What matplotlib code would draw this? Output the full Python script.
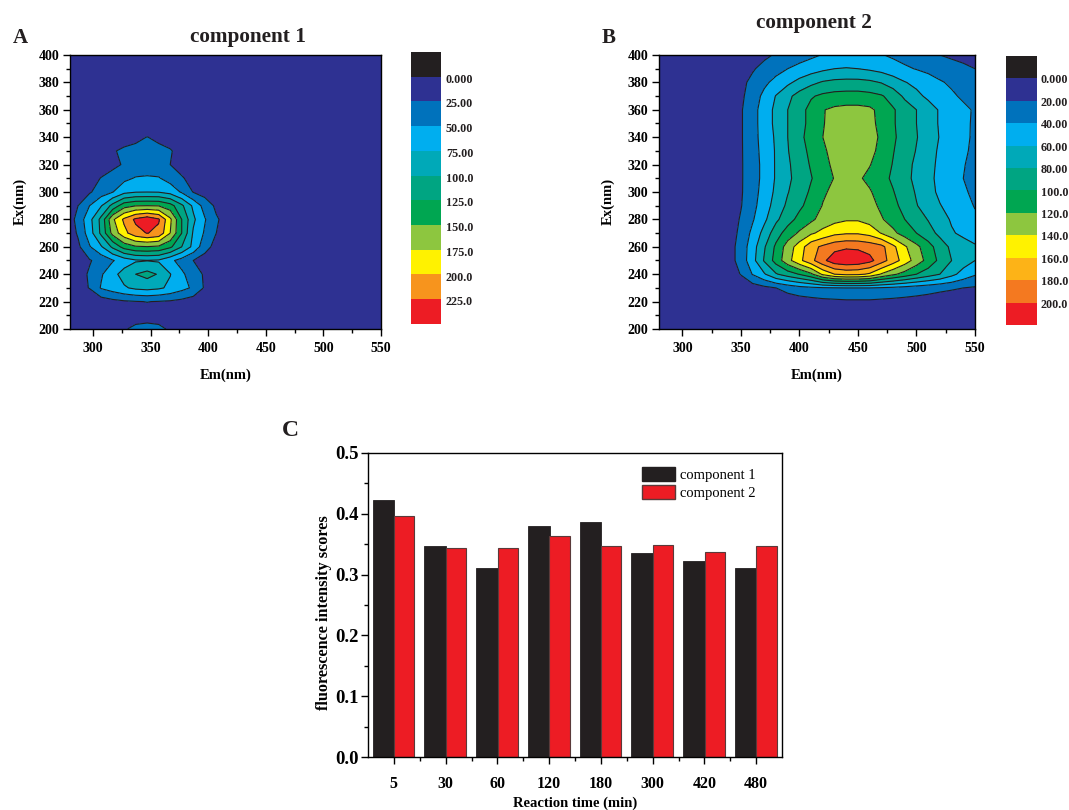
import numpy as np
import matplotlib
matplotlib.use("Agg")
import matplotlib.pyplot as plt
from matplotlib.colors import ListedColormap
from matplotlib.patches import Patch
from matplotlib.ticker import MultipleLocator

plt.rcParams['font.family'] = ['Liberation Serif', 'DejaVu Serif']
plt.rcParams['font.weight'] = 'bold'
plt.rcParams['axes.linewidth'] = 1.0

W, H = 1069, 810
DARK = '#231f20'

# excitation rows, bottom to top
ex = [200, 210, 220, 230, 240, 250, 260, 270, 280, 290, 300, 310, 320, 330, 340, 350, 360, 370, 380, 390, 400]

em_a = [280, 287, 297, 307, 317, 327, 337, 347, 357, 367, 377, 387, 397, 407, 417, 550]
z_a = [
    [0, 2, 4, 6, 15, 23, 30, 32, 30, 22, 14, 6, 3, 1, 0, 0],
    [0, 2, 3, 5, 9, 12, 15, 16, 15, 12, 9, 5, 3, 1, 0, 0],
    [1, 3, 7, 12, 18, 22, 24, 25.5, 24, 22, 18, 12, 7, 3, 1, 0],
    [5, 17, 26, 52, 62, 72, 80, 83, 79, 70, 58, 46, 22, 8, 3, 0],
    [4, 15, 28, 47, 67, 85, 100, 108, 98, 76, 55, 36, 22, 10, 3, 0],
    [3, 12, 23, 34, 48, 62, 72, 74, 72, 56, 40, 25, 14, 6, 2, 0],
    [7, 20, 48, 72, 105, 135, 147, 149, 146, 130, 100, 68, 35, 16, 6, 0],
    [14, 28, 63, 105, 158, 192, 216, 226, 218, 175, 125, 72, 47, 25, 12, 0],
    [15, 34, 67, 107, 170, 205, 230, 242, 228, 180, 125, 80, 52, 28, 15, 0],
    [10, 25, 50, 73, 108, 140, 149, 150, 149, 135, 105, 70, 40, 20, 8, 0],
    [6, 12, 22, 38, 49, 68, 74, 74.8, 74, 66, 47, 24, 15, 8, 3, 0],
    [3, 8, 15, 26, 33, 44, 52, 53, 52, 40, 27, 18, 9, 4, 2, 0],
    [1, 3, 7, 12, 20, 27, 33, 37, 33, 25, 17, 9, 5, 2, 1, 0],
    [0, 2, 5, 12, 23, 29, 31, 32, 31, 27, 16, 8, 4, 2, 0, 0],
    [0, 1, 3, 6, 10, 15, 20, 25.5, 20, 14, 8, 4, 2, 1, 0, 0],
    [0, 0, 1, 3, 5, 7, 8, 9, 8, 6, 4, 2, 1, 0, 0, 0],
    [0] * 16, [0] * 16, [0] * 16, [0] * 16, [0] * 16,
]

em_b = [280, 340, 350, 360, 370, 380, 390, 400, 410, 420, 430, 440, 450, 460, 470, 480, 490, 500, 510, 520, 530, 540, 550]
z_b = [
    [0, 0, 0, 1, 1, 1, 1, 1, 2, 2, 2, 3, 3, 3, 2, 2, 2, 2, 2, 2, 1, 1, 1],
    [0, 0, 1, 1, 2, 3, 4, 5, 6, 7, 7, 8, 8, 8, 7, 7, 6, 6, 5, 5, 4, 4, 3],
    [0, 1, 2, 3, 5, 7, 9, 11, 13, 15, 16, 17, 17, 17, 16, 15, 14, 13, 12, 11, 10, 9, 8],
    [0, 2, 5, 10, 15, 20, 27, 33, 36, 38, 39, 40, 40, 40, 38, 36, 33, 30, 27, 24, 22, 20, 18],
    [0, 9, 21, 41, 58, 78, 90, 101, 116, 144, 160, 165, 164, 157, 138, 124, 112, 100, 90, 80, 66, 52, 42],
    [0, 12, 28, 53, 82, 108, 133, 155, 174, 195, 212, 216, 214, 206, 189, 170, 151, 131, 113, 95, 80, 70, 60],
    [0, 12, 28, 51, 78, 104, 129, 150, 173, 184, 193, 197, 196, 192, 186, 165, 143, 125, 108, 90, 76, 68, 62],
    [0, 10, 25, 45, 67, 91, 109, 123, 137, 146, 155, 158, 158, 153, 139, 125, 111, 100, 88, 75, 62, 56, 52],
    [0, 9, 22, 38, 56, 76, 92, 106, 116, 128, 134, 138, 138, 132, 122, 111, 100, 90, 79, 68, 58, 50, 43],
    [0, 8, 19, 34, 51, 68, 84, 96, 108, 121, 128, 132, 132, 127, 116, 105, 94, 81, 71, 61, 53, 46, 39],
    [0, 7, 18, 32, 48, 64, 79, 91, 103, 117, 125, 128, 128, 122, 111, 101, 90, 78, 67, 56, 49, 42, 37],
    [0, 7, 18, 31, 46, 62, 76, 88, 99, 110, 121, 124, 123, 115, 106, 97, 86, 75, 65, 55, 47, 40, 33],
    [0, 7, 18, 31, 46, 62, 77, 90, 102, 114, 124, 127, 127, 121, 110, 99, 87, 76, 66, 56, 48, 41, 35],
    [0, 7, 18, 32, 47, 62, 79, 92, 105, 117, 126, 129, 129, 125, 115, 101, 90, 79, 68, 57, 49, 43, 36],
    [0, 7, 18, 33, 48, 63, 80, 95, 108, 120, 127, 130, 130, 127, 117, 103, 92, 81, 70, 59, 50, 44, 37],
    [0, 7, 18, 33, 49, 65, 80, 93, 106, 119, 126, 128, 128, 126, 114, 102, 91, 80, 69, 58, 50, 43, 38],
    [0, 7, 18, 33, 49, 65, 80, 93, 106, 119, 124, 126, 126, 124, 114, 102, 91, 80, 69, 58, 50, 44, 38],
    [0, 8, 16, 30, 45, 61, 75, 88, 98, 104, 107, 108, 108, 106, 102, 92, 76, 65, 56, 50, 43, 37, 32],
    [0, 8, 15, 25, 36, 46, 56, 66, 75, 82, 85, 86, 86, 84, 79, 70, 61, 55, 49, 42, 37, 33, 29],
    [0, 5, 11, 18, 26, 33, 40, 46, 51, 56, 60, 61, 60, 57, 53, 48, 43, 39, 35, 31, 27, 24, 20],
    [0, 2, 5, 10, 16, 22, 27, 31, 36, 41, 45, 47, 47, 46, 41, 37, 33, 29, 25, 20, 17, 14, 10],
]

levels_a = [0, 25, 50, 75, 100, 125, 150, 175, 200, 225]
levels_b = [0, 20, 40, 60, 80, 100, 120, 140, 160, 180, 200]
labels_a = ['0.000', '25.00', '50.00', '75.00', '100.0', '125.0', '150.0', '175.0', '200.0', '225.0']
labels_b = ['0.000', '20.00', '40.00', '60.00', '80.00', '100.0', '120.0', '140.0', '160.0', '180.0', '200.0']
colors_a = ['#2e3192', '#0072bc', '#00aeef', '#00a9b8', '#00a582', '#00a651', '#8dc63f', '#fff200', '#f7941d', '#ed1c24']
colors_b = ['#2e3192', '#0072bc', '#00aeef', '#00a9b8', '#00a582', '#00a651', '#8dc63f', '#fff200', '#fdb317', '#f47920', '#ed1c24']

times = ['5', '30', '60', '120', '180', '300', '420', '480']
comp1 = [0.423, 0.347, 0.311, 0.380, 0.387, 0.335, 0.323, 0.311]
comp2 = [0.396, 0.343, 0.343, 0.363, 0.347, 0.349, 0.337, 0.347]


def px_axes(left, top, right, bottom):
    return fig.add_axes([left / W, 1 - bottom / H, (right - left) / W, (bottom - top) / H])


def contour_panel(box, em, z, levels, colors):
    ax = px_axes(*box)
    ax.contourf(em, ex, z, levels=levels + [1000], colors=colors)
    ax.contour(em, ex, z, levels=levels[1:], colors=DARK, linewidths=0.8)
    ax.set_xlim(280, 550)
    ax.set_ylim(200, 400)
    ax.xaxis.set_major_locator(MultipleLocator(50))
    ax.xaxis.set_minor_locator(MultipleLocator(25))
    ax.yaxis.set_major_locator(MultipleLocator(20))
    ax.yaxis.set_minor_locator(MultipleLocator(10))
    ax.tick_params(which='major', length=5, width=1, labelsize=10, pad=2.5)
    ax.tick_params(axis='x', which='major', pad=4.5)
    ax.tick_params(which='minor', length=3, width=1)
    ax.set_xlabel('Em(nm)', fontsize=10.5, fontweight='bold')
    ax.set_ylabel('Ex(nm)', fontsize=10.5, fontweight='bold')
    ax.xaxis.set_label_coords(0.5, -0.143)
    ax.yaxis.set_label_coords(-0.139, 0.465)
    return ax


def colour_key(box, labels, colors, label_x, nudge):
    ax = px_axes(*box)
    n = len(colors) + 1
    cells = np.arange(n).reshape(-1, 1)
    ax.imshow(cells, aspect='auto', cmap=ListedColormap([DARK] + colors), interpolation='nearest')
    ax.axis('off')
    step = (box[3] - box[1]) / n
    for i, lab in enumerate(labels):
        y = box[1] + step * (i + 1) + nudge
        fig.text(label_x / W, 1 - y / H, lab, fontsize=8.7, fontweight='bold', va='center', color=DARK)


fig = plt.figure(figsize=(W / 100, H / 100), dpi=100)

ax_a = contour_panel((70, 55, 381, 329), em_a, z_a, levels_a, colors_a)
ax_b = contour_panel((659, 55, 975, 329), em_b, z_b, levels_b, colors_b)
colour_key((411, 52, 441, 324), labels_a, colors_a, 446, 3)
colour_key((1006, 56, 1037, 325), labels_b, colors_b, 1040.5, 2)

fig.text(248 / W, 1 - 37 / H, 'component 1', fontsize=15.3, fontweight='bold', ha='center', va='center', color=DARK)
fig.text(814 / W, 1 - 23 / H, 'component 2', fontsize=15.3, fontweight='bold', ha='center', va='center', color=DARK)
fig.text(13 / W, 1 - 38 / H, 'A', fontsize=15, fontweight='bold', va='center', color=DARK)
fig.text(602 / W, 1 - 38 / H, 'B', fontsize=15, fontweight='bold', va='center', color=DARK)
fig.text(282 / W, 1 - 431 / H, 'C', fontsize=17, fontweight='bold', va='center', color=DARK)

ax_c = px_axes(368, 453, 782, 757)
x = np.arange(len(times))
ax_c.bar(x - 0.2, comp1, 0.42, color=DARK, edgecolor=DARK, linewidth=0.6)
ax_c.bar(x + 0.2, comp2, 0.39, color='#ed1c24', edgecolor='#5a3a3a', linewidth=0.8)
ax_c.set_xlim(-0.5, 7.5)
ax_c.set_ylim(0, 0.5)
ax_c.set_xticks(x, times)
ax_c.set_xticks(x[:-1] + 0.5, minor=True)
ax_c.yaxis.set_major_locator(MultipleLocator(0.1))
ax_c.yaxis.set_minor_locator(MultipleLocator(0.05))
ax_c.tick_params(which='major', length=5, width=1)
ax_c.tick_params(which='minor', length=3, width=1)
ax_c.tick_params(axis='x', labelsize=11.5, pad=9)
ax_c.tick_params(axis='y', labelsize=13.5, pad=2)
ax_c.set_xlabel('Reaction time (min)', fontsize=10.5, fontweight='bold', labelpad=3)
ax_c.set_ylabel('fluorescence intensity scores', fontsize=11.7, fontweight='bold')
ax_c.yaxis.set_label_coords(-0.086, 0.475)
ax_c.legend(handles=[Patch(facecolor=DARK, edgecolor=DARK), Patch(facecolor='#ed1c24', edgecolor='#5a3a3a')],
            labels=['component 1', 'component 2'], loc='upper left', bbox_to_anchor=(0.638, 0.988),
            frameon=False, prop={'size': 10.5, 'weight': 'normal'}, handlelength=2.25, handleheight=1.1,
            labelspacing=0.22, handletextpad=0.3, borderpad=0.2)

fig.savefig('out.png', dpi=100)
